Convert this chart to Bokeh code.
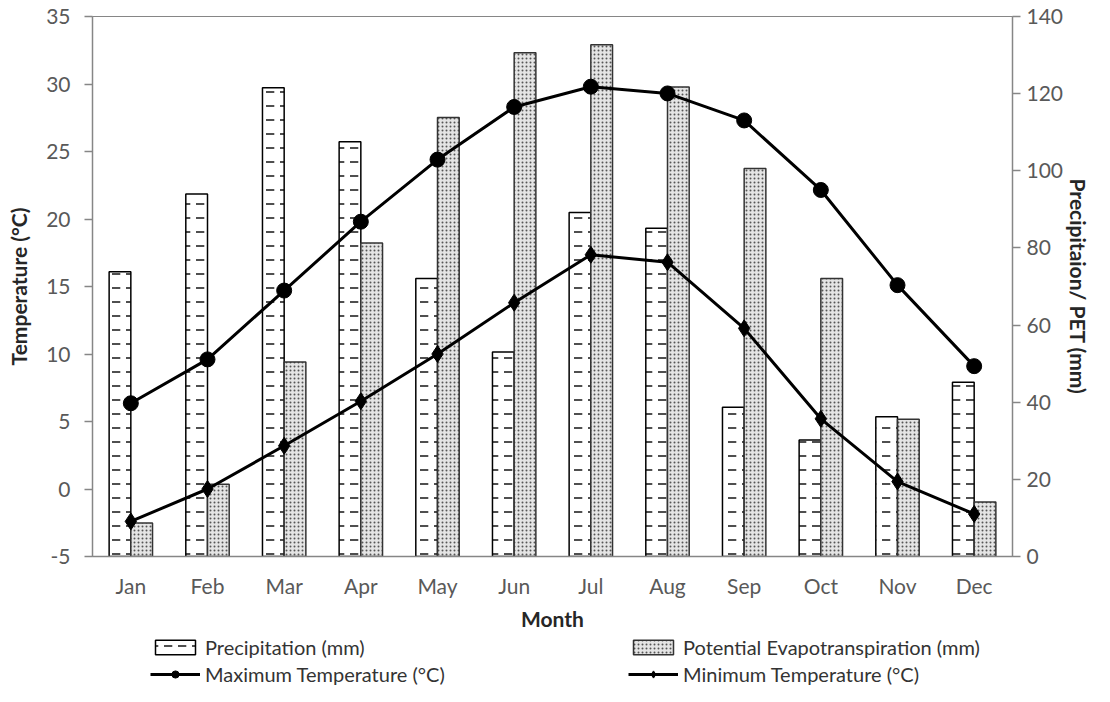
from bokeh.plotting import figure
from bokeh.models import (Range1d, LinearAxis, FixedTicker, Legend, LegendItem,
                          ColumnDataSource, FactorRange)
from bokeh.layouts import column
from bokeh.transform import dodge
from bokeh.embed import file_html
from bokeh.resources import INLINE

months = ["Jan", "Feb", "Mar", "Apr", "May", "Jun", "Jul", "Aug", "Sep", "Oct", "Nov", "Dec"]
precip = [73.8, 94.0, 121.5, 107.5, 72.1, 53.0, 89.2, 85.1, 38.7, 30.2, 36.2, 45.2]
pet = [8.7, 18.7, 50.4, 81.3, 113.8, 130.6, 132.7, 121.7, 100.6, 72.1, 35.6, 14.1]
tmax = [6.35, 9.6, 14.7, 19.8, 24.4, 28.3, 29.8, 29.3, 27.3, 22.15, 15.1, 9.1]
tmin = [-2.4, 0.0, 3.2, 6.5, 10.0, 13.8, 17.35, 16.8, 11.9, 5.2, 0.55, -1.85]
temp_ticks = [-5, 0, 5, 10, 15, 20, 25, 30, 35]
mm_ticks = [0, 20, 40, 60, 80, 100, 120, 140]

src = ColumnDataSource(dict(month=months, precip=precip, pet=pet, tmax=tmax, tmin=tmin))

FONT = "Lato"
AXIS_COL = "#868686"
TICK_COL = "#595959"
LABEL_COL = "#262626"

PRECIP_STYLE = dict(fill_color="white", line_color="black", line_width=1.5,
                    hatch_pattern="horizontal_dash", hatch_color="#222222",
                    hatch_scale=14, hatch_weight=1.6)
PET_STYLE = dict(fill_color="#e4e4e4", line_color="#333333", line_width=1.5,
                 hatch_pattern="dot", hatch_color="#555555", hatch_scale=4, hatch_weight=1)
MAX_LINE = dict(line_color="black", line_width=3)
MAX_MARK = dict(marker="circle", size=15, fill_color="black", line_color="black")
MIN_LINE = dict(line_color="black", line_width=3)
MIN_MARK = dict(marker="diamond", size=17, fill_color="black", line_color="black")

p = figure(width=1094, height=634, x_range=FactorRange(*months), y_range=Range1d(-5, 35),
           output_backend="svg", toolbar_location=None,
           min_border_left=92, min_border_right=81, min_border_top=16, min_border_bottom=78)
p.extra_y_ranges = {"mm": Range1d(0, 140)}
p.xgrid.visible = False
p.ygrid.visible = False
p.outline_line_color = AXIS_COL
p.outline_line_width = 1

bw = 0.283
p.vbar(x=dodge("month", -0.1415, range=p.x_range), top="precip", bottom=0, width=bw,
       source=src, y_range_name="mm", **PRECIP_STYLE)
p.vbar(x=dodge("month", 0.1415, range=p.x_range), top="pet", bottom=0, width=bw,
       source=src, y_range_name="mm", **PET_STYLE)
p.line(x="month", y="tmax", source=src, **MAX_LINE)
p.scatter(x="month", y="tmax", source=src, **MAX_MARK)
p.line(x="month", y="tmin", source=src, **MIN_LINE)
p.scatter(x="month", y="tmin", source=src, **MIN_MARK)

ya = p.yaxis[0]
ya.ticker = FixedTicker(ticks=temp_ticks)
ya.axis_label = "Temperature (°C)"
ya.major_label_overrides = {-5: "-5"}
ra = LinearAxis(y_range_name="mm", ticker=FixedTicker(ticks=mm_ticks),
                axis_label="Precipitaion/ PET (mm)")
p.add_layout(ra, "right")

for ax in [ya, ra]:
    ax.major_tick_out = 8
    ax.major_tick_in = 0
    ax.minor_tick_out = 0
    ax.minor_tick_in = 0
ya.major_label_standoff = 14
ya.axis_label_standoff = 12
ra.major_label_standoff = 6
ra.axis_label_standoff = 0

xa = p.xaxis[0]
xa.axis_label = "Month"
xa.major_tick_out = 0
xa.major_tick_in = 0
xa.major_label_standoff = 16
xa.axis_label_standoff = 5

for ax in [ya, ra, xa]:
    ax.axis_line_color = AXIS_COL
    ax.axis_line_width = 1.5
    ax.major_tick_line_color = AXIS_COL
    ax.major_tick_line_width = 1.5
    ax.major_label_text_font = FONT
    ax.major_label_text_font_size = "21px"
    ax.major_label_text_color = TICK_COL
    ax.axis_label_text_font = FONT
    ax.axis_label_text_font_size = "21px"
    ax.axis_label_text_font_style = "bold"
    ax.axis_label_text_color = LABEL_COL

# legend strip below the chart: the same series as hidden renderers, so only the keys show
lg = figure(width=1094, height=52, output_backend="svg", toolbar_location=None,
            x_range=FactorRange(*months), y_range=Range1d(-5, 35),
            x_axis_type=None, y_axis_type=None,
            min_border_left=0, min_border_right=0, min_border_top=0, min_border_bottom=0)
lg.outline_line_color = None
lg.xgrid.visible = False
lg.ygrid.visible = False
k_p = lg.vbar(x="month", top="precip", bottom=0, width=bw, source=src, visible=False, **PRECIP_STYLE)
k_e = lg.vbar(x="month", top="pet", bottom=0, width=bw, source=src, visible=False, **PET_STYLE)
k_ml = lg.line(x="month", y="tmax", source=src, visible=False, **MAX_LINE)
k_ms = lg.scatter(x="month", y="tmax", source=src, visible=False, **MAX_MARK)
k_nl = lg.line(x="month", y="tmin", source=src, visible=False, **MIN_LINE)
k_ns = lg.scatter(x="month", y="tmin", source=src, visible=False, **MIN_MARK)

legend = Legend(items=[
    LegendItem(label="Precipitation (mm)", renderers=[k_p]),
    LegendItem(label="Potential Evapotranspiration (mm)", renderers=[k_e]),
    LegendItem(label="Maximum Temperature (°C)", renderers=[k_ml, k_ms]),
    LegendItem(label="Minimum Temperature (°C)", renderers=[k_nl, k_ns]),
], location=(58, 0), orientation="horizontal", ncols=2,
    glyph_width=50, glyph_height=18, label_height=20, label_width=420,
    label_standoff=5, spacing=3, padding=0, margin=0,
    border_line_color=None, background_fill_alpha=0, inactive_fill_alpha=0,
    label_text_font=FONT, label_text_font_size="20px", label_text_color="#333333")
lg.add_layout(legend, "center")

open("out.html", "w").write(file_html(column(p, lg), INLINE))
